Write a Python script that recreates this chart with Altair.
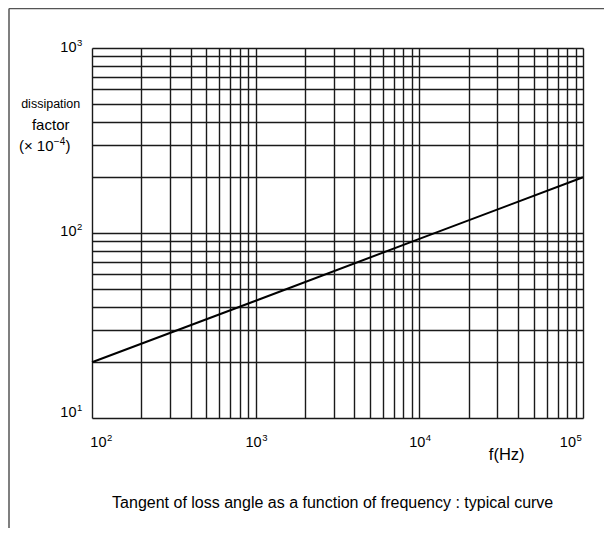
import altair as alt
import pandas as pd

FONT = "Liberation Sans"

# curve: dissipation factor (x 1e-4) vs frequency (Hz)
freq = [100, 1000, 10000, 100000]
dissipation = [20, 43, 93, 200]

# grid lines (log decades)
x_grid = [100, 200, 300, 400, 500, 600, 700, 800, 900,
          1000, 2000, 3000, 4000, 5000, 6000, 7000, 8000, 9000,
          10000, 20000, 30000, 40000, 50000, 60000, 70000, 80000, 90000,
          100000]
y_grid = [10, 20, 30, 40, 50, 60, 70, 80, 90,
          100, 200, 300, 400, 500, 600, 700, 800, 900,
          1000]

# tick labels
x_label_vals = [100, 1000, 10000, 100000]
x_label_exps = ["2", "3", "4", "5"]
y_label_vals = [10, 100, 1000]
y_label_exps = ["1", "2", "3"]

title_text = "Tangent of loss angle as a function of frequency : typical curve"

W, H = 491, 370

xscale = alt.Scale(type="log", domain=[100, 100000], nice=False)
yscale = alt.Scale(type="log", domain=[10, 1000], nice=False)
xaxis = alt.Axis(values=x_grid, grid=True, labels=False, ticks=False, domain=False,
                 title=None, gridColor="#1a1a1a", gridWidth=1.4, gridOpacity=1)
yaxis = alt.Axis(values=y_grid, grid=True, labels=False, ticks=False, domain=False,
                 title=None, gridColor="#1a1a1a", gridWidth=1.4, gridOpacity=1)


def X(field):
    return alt.X(field, type="quantitative", scale=xscale, axis=xaxis)


def Y(field):
    return alt.Y(field, type="quantitative", scale=yscale, axis=yaxis)


curve_df = pd.DataFrame({"f": freq, "d": dissipation})
curve = alt.Chart(curve_df).mark_line(color="black", strokeWidth=2).encode(
    x=X("f"), y=Y("d"))

layers = [curve]

# x tick labels: "10" + superscript exponent
x_offsets = [14.5, 6, 6, -7]
for v, e, a in zip(x_label_vals, x_label_exps, x_offsets):
    df = pd.DataFrame({"f": [v], "base": ["10"], "exp": [e]})
    layers.append(alt.Chart(df).mark_text(align="right", baseline="alphabetic", dx=a,
                                          fontSize=14.5, font=FONT, color="black").encode(
        x=X("f"), y=alt.value(399.3), text="base:N"))
    layers.append(alt.Chart(df).mark_text(align="left", baseline="alphabetic", dx=a + 0.5,
                                          fontSize=9.5, font=FONT, color="black").encode(
        x=X("f"), y=alt.value(393.3), text="exp:N"))

# y tick labels
y_dys = [-1.5, 2.5, 4]
for v, e, dy in zip(y_label_vals, y_label_exps, y_dys):
    df = pd.DataFrame({"d": [v], "base": ["10"], "exp": [e]})
    layers.append(alt.Chart(df).mark_text(align="right", baseline="alphabetic", dy=dy,
                                          fontSize=14.5, font=FONT, color="black").encode(
        x=alt.value(-15.5), y=Y("d"), text="base:N"))
    layers.append(alt.Chart(df).mark_text(align="left", baseline="alphabetic", dy=dy - 6,
                                          fontSize=9.5, font=FONT, color="black").encode(
        x=alt.value(-15), y=Y("d"), text="exp:N"))

one = pd.DataFrame({"a": [0]})


def label(text, x, y, size, align="center"):
    return alt.Chart(one).mark_text(align=align, baseline="alphabetic", fontSize=size,
                                    font=FONT, color="black", text=text).encode(
        x=alt.value(x), y=alt.value(y))


layers += [
    label("dissipation", -41.3, 60, 12.5),
    label("factor", -41.3, 82, 15),
    label("(\u00d7 10", -38.5, 103, 15, "right"),
    label("\u22124", -38.2, 96.5, 10, "left"),
    label(")", -26.5, 103, 15, "left"),
    label("f(Hz)", 414.7, 411.5, 16.5),
    label(title_text, 240.7, 459.5, 16),
]

# outer frame of the figure
layers += [
    alt.Chart(one).mark_rule(color="#555555", strokeWidth=1.5).encode(
        x=alt.value(-83), y=alt.value(-39.5), y2=alt.value(480)),
    alt.Chart(one).mark_rule(color="#555555", strokeWidth=1.5).encode(
        x=alt.value(-83), x2=alt.value(520), y=alt.value(-39.5)),
]

chart = alt.layer(*layers).properties(
    width=W, height=H,
    autosize=alt.AutoSizeParams(type="none"),
    padding={"left": 84, "top": 40, "right": 21, "bottom": 110},
).configure_view(stroke="black", strokeWidth=2).configure(background="white")

chart.save("out.html", embed_options={"renderer": "svg", "actions": False})
